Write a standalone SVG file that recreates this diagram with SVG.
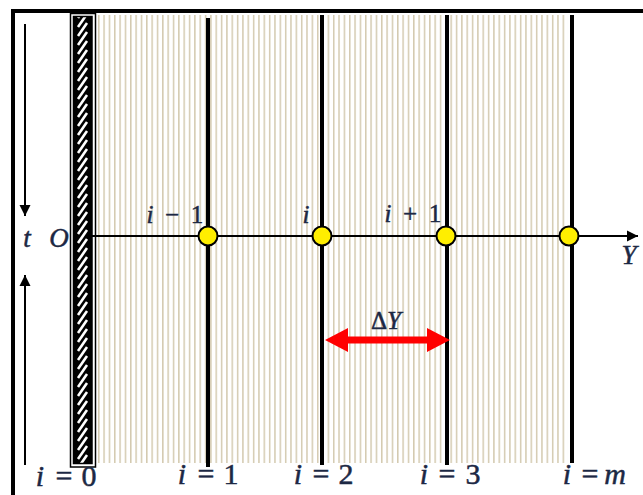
<svg xmlns="http://www.w3.org/2000/svg" width="643" height="495" viewBox="0 0 643 495">
<style>
.lbl{font-family:"Liberation Serif","DejaVu Serif",serif;fill:#1c2844;stroke:#1c2844;stroke-width:0.5}
.it{font-style:italic}
.grid{stroke:#000;stroke-width:4}
.node{fill:#ffee00;stroke:#000;stroke-width:2}
.sl{stroke:#fff;stroke-width:2.6}
</style>
<defs>
<pattern id="beige" patternUnits="userSpaceOnUse" x="98" y="0" width="5.34" height="10">
<rect x="0" y="0" width="1.5" height="10" fill="#d4cab0"/>
</pattern>
<pattern id="hatch" patternUnits="userSpaceOnUse" x="73" y="16" width="19" height="9">
<rect width="19" height="9" fill="#000"/>
<line class="sl" x1="5" y1="11" x2="14" y2="-2"/>
<line class="sl" x1="5" y1="20" x2="14" y2="7"/>
<line class="sl" x1="5" y1="2" x2="14" y2="-11"/>
</pattern>
<marker id="axhead" markerWidth="12" markerHeight="12" refX="11" refY="6" orient="auto" markerUnits="userSpaceOnUse">
<path d="M0,0.5 L11,6 L0,11.5 Z" fill="#000"/>
</marker>
</defs>
<rect width="643" height="495" fill="#fff"/>
<rect x="13" y="11" width="640" height="500" fill="none" stroke="#000" stroke-width="4"/>
<g id="domain">
<rect x="98" y="15" width="470" height="448" fill="url(#beige)"/>
</g>
<g id="wall">
<rect x="70.5" y="13.5" width="25" height="453.5" fill="#fff" stroke="#000" stroke-width="1.5"/>
<rect x="73.5" y="16.5" width="18.5" height="447" fill="url(#hatch)" stroke="#000" stroke-width="1.5"/>
</g>
<g id="lines">
<line class="grid" x1="208" y1="18" x2="208" y2="467"/>
<line class="grid" x1="322" y1="15" x2="322" y2="465"/>
<line class="grid" x1="447" y1="15" x2="447" y2="465"/>
<line class="grid" x1="572" y1="15" x2="572" y2="463"/>
</g>
<g id="connectors">
<line x1="92" y1="236" x2="638" y2="236" stroke="#000" stroke-width="2" marker-end="url(#axhead)"/>
<line x1="25" y1="24" x2="25" y2="216" stroke="#000" stroke-width="2" marker-end="url(#axhead)"/>
<line x1="25" y1="465" x2="25" y2="275" stroke="#000" stroke-width="2" marker-end="url(#axhead)"/>
<path d="M325,340 L348,328 L348,336.5 L427,336.5 L427,328 L450,340 L427,352 L427,343.5 L348,343.5 L348,352 Z" fill="#ff0000"/>
</g>
<g id="n1"><circle class="node" cx="208" cy="236" r="9.5"/></g>
<g id="n2"><circle class="node" cx="322" cy="236" r="9.5"/></g>
<g id="n3"><circle class="node" cx="446" cy="236" r="9.5"/></g>
<g id="n4"><circle class="node" cx="569" cy="236" r="9.5"/></g>
<g id="labels" text-anchor="middle">
<text class="lbl it" x="27" y="247" font-size="27">t</text>
<text class="lbl it" x="59" y="247" font-size="27">O</text>
<text class="lbl it" x="629" y="264" font-size="27">Y</text>
<text class="lbl" x="386" y="329" font-size="25">Δ<tspan class="it">Y</tspan></text>
<text class="lbl" font-size="25" y="223"><tspan class="it" x="150">i</tspan><tspan x="172">−</tspan><tspan x="197">1</tspan></text>
<text class="lbl it" font-size="25" x="306" y="223">i</text>
<text class="lbl" font-size="25" y="222"><tspan class="it" x="388">i</tspan><tspan x="410">+</tspan><tspan x="435">1</tspan></text>
<text class="lbl" font-size="30" y="486"><tspan class="it" x="40">i</tspan><tspan x="64">=</tspan><tspan x="89">0</tspan></text>
<text class="lbl" font-size="30" y="484"><tspan class="it" x="182">i</tspan><tspan x="206">=</tspan><tspan x="231">1</tspan></text>
<text class="lbl" font-size="30" y="484"><tspan class="it" x="298">i</tspan><tspan x="321">=</tspan><tspan x="346">2</tspan></text>
<text class="lbl" font-size="30" y="484"><tspan class="it" x="424">i</tspan><tspan x="447">=</tspan><tspan x="473">3</tspan></text>
<text class="lbl" font-size="30" y="484"><tspan class="it" x="567">i</tspan><tspan x="590">=</tspan><tspan class="it" x="615">m</tspan></text>
</g>
</svg>
